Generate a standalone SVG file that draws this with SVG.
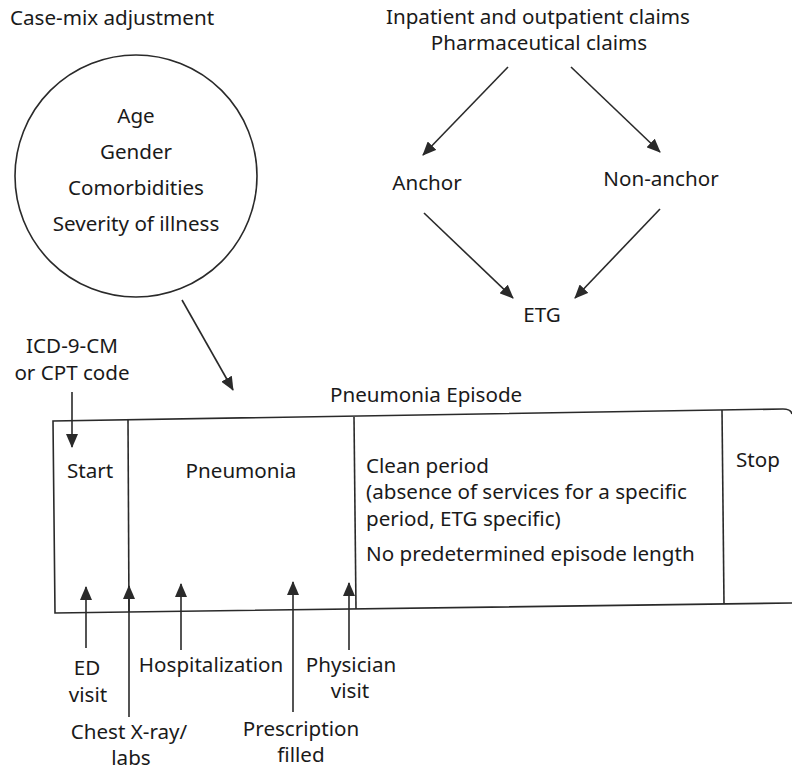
<svg xmlns="http://www.w3.org/2000/svg" width="792" height="772" viewBox="0 0 792 772">
<defs>
<style>
text{font-family:"Noto Sans","Open Sans",sans-serif;font-size:20.6px;fill:#1a1a1a}
.c{text-anchor:middle}
.ln{stroke:#2a2a2a;stroke-width:1.6;fill:none}
</style>
<marker id="ah" markerUnits="userSpaceOnUse" markerWidth="14" markerHeight="12" viewBox="0 0 14 12" refX="13" refY="6" orient="auto">
<path d="M0,0 L14,6 L0,12 Z" fill="#2a2a2a"/>
</marker>
</defs>
<rect width="792" height="772" fill="#fff"/>
<g id="casemix">
<text x="10" y="25">Case-mix adjustment</text>
<circle cx="136" cy="176" r="121" class="ln"/>
<text class="c" x="136" y="123">Age</text>
<text class="c" x="136" y="159">Gender</text>
<text class="c" x="136" y="195">Comorbidities</text>
<text class="c" x="136" y="231">Severity of illness</text>
</g>
<g id="claims">
<text class="c" x="538" y="24">Inpatient and outpatient claims</text>
<text class="c" x="539" y="50">Pharmaceutical claims</text>
</g>
<g id="anchor"><text class="c" x="427" y="190">Anchor</text></g>
<g id="nonanchor"><text class="c" x="661" y="186">Non-anchor</text></g>
<g id="etg"><text class="c" x="542" y="322">ETG</text></g>
<g id="code">
<text class="c" x="72" y="353">ICD-9-CM</text>
<text class="c" x="72" y="380">or CPT code</text>
</g>
<g id="episode">
<text x="330" y="402">Pneumonia Episode</text>
<path class="ln" d="M792,414 Q791,409 783,409 L53,421 L55,613 L792,603"/>
<line class="ln" x1="128" y1="420" x2="129" y2="612"/>
<line class="ln" x1="354" y1="417" x2="356" y2="609"/>
<line class="ln" x1="722" y1="410" x2="724" y2="604"/>
<text x="67" y="478">Start</text>
<text class="c" x="241" y="478">Pneumonia</text>
<text x="366" y="473">Clean period</text>
<text x="366" y="499">(absence of services for a specific</text>
<text x="366" y="526">period, ETG specific)</text>
<text x="366" y="561">No predetermined episode length</text>
<text x="736" y="467">Stop</text>
</g>
<g id="events">
<text class="c" x="87" y="675">ED</text>
<text class="c" x="88" y="702">visit</text>
<text class="c" x="211" y="672">Hospitalization</text>
<text class="c" x="351" y="672">Physician</text>
<text class="c" x="350" y="698">visit</text>
<text class="c" x="129" y="739">Chest X-ray/</text>
<text class="c" x="131" y="765">labs</text>
<text class="c" x="301" y="736">Prescription</text>
<text class="c" x="301" y="762">filled</text>
</g>
<g id="connectors">
<line class="ln" x1="508" y1="67" x2="423" y2="155" marker-end="url(#ah)"/>
<line class="ln" x1="571" y1="67" x2="660" y2="152" marker-end="url(#ah)"/>
<line class="ln" x1="424" y1="213" x2="513" y2="298" marker-end="url(#ah)"/>
<line class="ln" x1="660" y1="209" x2="575" y2="298" marker-end="url(#ah)"/>
<line class="ln" x1="182" y1="300" x2="233" y2="390" marker-end="url(#ah)"/>
<line class="ln" x1="72" y1="392" x2="72" y2="447" marker-end="url(#ah)"/>
<line class="ln" x1="86" y1="648" x2="86" y2="587" marker-end="url(#ah)"/>
<line class="ln" x1="129" y1="717" x2="129" y2="586" marker-end="url(#ah)"/>
<line class="ln" x1="181" y1="650" x2="181" y2="584" marker-end="url(#ah)"/>
<line class="ln" x1="293" y1="712" x2="293" y2="582" marker-end="url(#ah)"/>
<line class="ln" x1="349" y1="650" x2="349" y2="583" marker-end="url(#ah)"/>
</g>
</svg>
